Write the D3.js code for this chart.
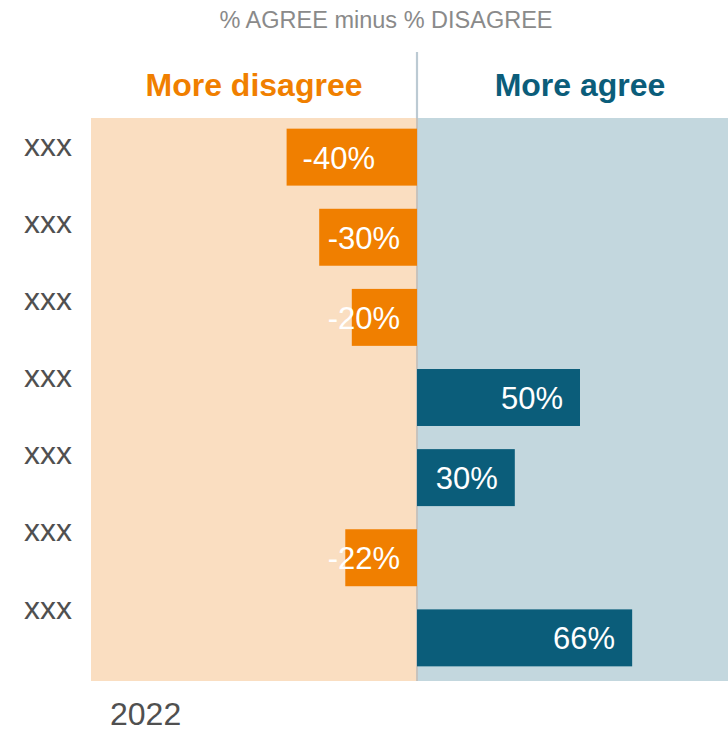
<!DOCTYPE html>
<html>
<head>
<meta charset="utf-8">
<script src="https://cdn.jsdelivr.net/npm/d3@7"></script>
<style>
  html, body { margin: 0; padding: 0; background: #ffffff; }
  svg { display: block; font-family: "Liberation Sans", Arial, sans-serif; }
</style>
</head>
<body>
<svg id="chart" width="728" height="730"></svg>
<script>
// Net agreement (% agree minus % disagree) per statement
const categories = ["xxx", "xxx", "xxx", "xxx", "xxx", "xxx", "xxx"];
const values = [-40, -30, -20, 50, 30, -22, 66];
const sideLabels = ["More disagree", "More agree"];
const titleText = "% AGREE minus % DISAGREE";
const yearLabel = "2022";

const W = 728, H = 730;
const orange = "#f07f00", orangeBg = "#fadec1";
const blue = "#0b5d7a", blueBg = "#c3d7de";

const svg = d3.select("#chart");
const idx = d3.range(categories.length);

const x = d3.scaleLinear().domain([-100, 100]).range([91, 743]);
const plotTop = 118, plotBottom = 681;
const y = d3.scaleBand().domain(idx).range([plotTop, 677])
  .paddingInner(0.289).paddingOuter(0.133);
const yLabel = d3.scalePoint().domain(idx).range([147, 610]);

// Background halves
svg.append("rect").attr("x", x(-100)).attr("y", plotTop)
  .attr("width", x(0) - x(-100)).attr("height", plotBottom - plotTop).attr("fill", orangeBg);
svg.append("rect").attr("x", x(0)).attr("y", plotTop)
  .attr("width", Math.min(W, x(100)) - x(0)).attr("height", plotBottom - plotTop).attr("fill", blueBg);

// Zero divider
svg.append("line").attr("x1", x(0)).attr("x2", x(0)).attr("y1", 52).attr("y2", plotTop)
  .attr("stroke", "#bccad3").attr("stroke-width", 2.2);
svg.append("line").attr("x1", x(0)).attr("x2", x(0)).attr("y1", plotTop).attr("y2", plotBottom)
  .attr("stroke", "#c4c0bb").attr("stroke-width", 1.8);

// Title
svg.append("text").attr("x", 386).attr("y", 28).attr("text-anchor", "middle")
  .attr("fill", "#8a8a8a").attr("font-size", 23.5).text(titleText);

// Side headers
svg.append("text").attr("x", (x(-100) + x(0)) / 2).attr("y", 96).attr("text-anchor", "middle")
  .attr("fill", orange).attr("font-weight", "bold").attr("font-size", 32).text(sideLabels[0]);
svg.append("text").attr("x", (x(0) + x(100)) / 2).attr("y", 96).attr("text-anchor", "middle")
  .attr("fill", blue).attr("font-weight", "bold").attr("font-size", 32).text(sideLabels[1]);

// Bars
svg.append("g").selectAll("rect").data(idx).join("rect")
  .attr("x", i => x(Math.min(0, values[i])))
  .attr("width", i => Math.abs(x(values[i]) - x(0)))
  .attr("y", i => y(i))
  .attr("height", y.bandwidth())
  .attr("fill", i => values[i] < 0 ? orange : blue);

// Value labels
const pad = 17;
svg.append("g").selectAll("text").data(idx).join("text")
  .attr("y", i => y(i) + y.bandwidth() / 2)
  .attr("dy", "0.37em")
  .attr("fill", "#ffffff").attr("font-size", 31)
  .text(i => values[i] + "%")
  .each(function (i) {
    const t = d3.select(this);
    if (values[i] >= 0) {
      t.attr("text-anchor", "end").attr("x", x(values[i]) - pad);
    } else {
      const w = this.getComputedTextLength();
      const start = Math.min(x(values[i]) + pad - 1, x(0) - pad - w);
      t.attr("text-anchor", "start").attr("x", start);
    }
  });

// Category labels
svg.append("g").selectAll("text").data(idx).join("text")
  .attr("x", 72).attr("y", i => yLabel(i)).attr("dy", "0.27em")
  .attr("text-anchor", "end").attr("fill", "#505050").attr("font-size", 32)
  .text(i => categories[i]);

// Year
svg.append("text").attr("x", 110).attr("y", 725).attr("fill", "#505050")
  .attr("font-size", 32).text(yearLabel);
</script>
</body>
</html>
